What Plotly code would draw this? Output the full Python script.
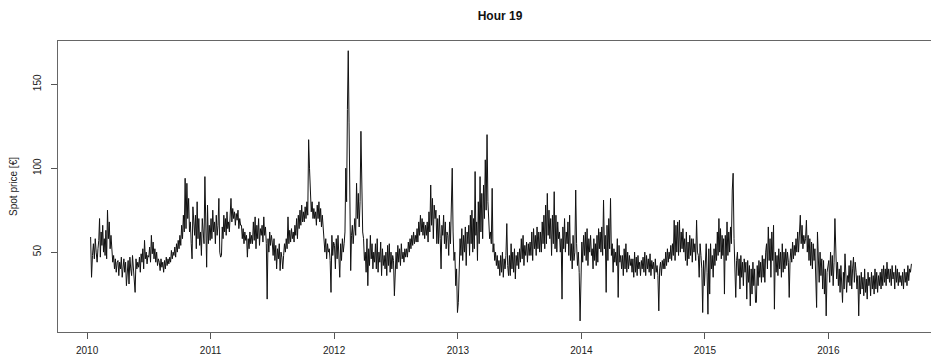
import pandas as pd
import plotly.graph_objects as go

# Spot prices (EUR): 12 readings per month
# (January 2010 starts on the 10th, the series ends in early September 2016)
p2010 = [
    [59, 35, 48, 55, 46, 58, 50, 44],
    [52, 57, 70, 47, 62, 54, 66, 50, 58, 48, 63, 46],
    [75, 58, 68, 52, 60, 50, 44, 48, 40, 46, 38, 44],
    [45, 36, 44, 40, 47, 35, 43, 46, 38, 44, 30, 42],
    [45, 31, 47, 40, 36, 48, 42, 37, 26, 46, 40, 44],
    [41, 47, 38, 49, 44, 52, 40, 57, 46, 50, 43, 48],
    [47, 53, 44, 60, 49, 56, 46, 52, 44, 50, 42, 46],
    [44, 39, 46, 41, 44, 38, 45, 40, 47, 42, 46, 43],
    [47, 44, 51, 46, 50, 48, 53, 47, 55, 50, 57, 52],
    [60, 54, 66, 58, 72, 62, 94, 64, 91, 70, 82, 62],
    [68, 55, 46, 77, 66, 60, 72, 52, 80, 58, 70, 54],
    [62, 48, 70, 60, 55, 95, 66, 41, 78, 55, 66, 57],
]
p2011 = [
    [70, 58, 75, 62, 68, 55, 72, 60, 66, 82, 50, 47],
    [48, 65, 58, 72, 62, 70, 60, 74, 64, 68, 62, 75],
    [82, 68, 76, 70, 74, 66, 73, 69, 75, 64, 70, 66],
    [66, 58, 64, 55, 62, 57, 60, 47, 58, 52, 62, 55],
    [60, 55, 68, 57, 71, 52, 66, 58, 70, 54, 64, 60],
    [66, 56, 71, 60, 65, 55, 22, 58, 50, 62, 54, 60],
    [56, 48, 58, 45, 54, 40, 52, 46, 55, 39, 50, 47],
    [40, 48, 55, 50, 58, 52, 71, 55, 63, 56, 64, 58],
    [62, 56, 66, 60, 70, 58, 72, 64, 75, 66, 78, 68],
    [74, 68, 77, 70, 80, 72, 117, 100, 85, 74, 80, 70],
    [76, 70, 74, 66, 78, 70, 80, 68, 76, 65, 72, 62],
    [60, 50, 58, 46, 55, 50, 52, 45, 26, 60, 48, 56],
]
p2012 = [
    [54, 40, 58, 46, 60, 50, 35, 55, 45, 58, 50, 55],
    [62, 100, 80, 135, 170, 127, 70, 39, 60, 66, 55, 62],
    [70, 60, 91, 70, 85, 65, 80, 122, 78, 62, 58, 45],
    [50, 38, 58, 30, 52, 42, 60, 46, 55, 40, 50, 44],
    [55, 40, 58, 38, 50, 44, 56, 36, 52, 42, 48, 40],
    [50, 36, 54, 42, 55, 38, 50, 40, 48, 45, 24, 42],
    [50, 40, 54, 44, 52, 42, 55, 46, 50, 44, 52, 47],
    [52, 47, 56, 50, 58, 52, 60, 54, 62, 55, 60, 56],
    [64, 56, 68, 60, 72, 62, 70, 60, 68, 58, 66, 60],
    [68, 56, 74, 62, 90, 66, 82, 58, 78, 70, 75, 55],
    [70, 55, 72, 58, 40, 66, 60, 72, 55, 68, 52, 62],
    [60, 48, 68, 55, 85, 100, 62, 45, 50, 30, 40, 14],
]
p2013 = [
    [20, 42, 58, 48, 64, 45, 60, 50, 65, 42, 62, 55],
    [66, 48, 72, 55, 75, 50, 70, 52, 98, 60, 68, 45],
    [80, 55, 95, 62, 85, 58, 90, 70, 105, 75, 120, 80],
    [70, 58, 62, 55, 88, 50, 55, 45, 50, 42, 48, 40],
    [45, 36, 48, 38, 50, 35, 46, 40, 48, 67, 42, 36],
    [48, 36, 55, 40, 50, 38, 52, 34, 48, 42, 50, 40],
    [52, 44, 58, 46, 60, 42, 54, 48, 56, 44, 55, 48],
    [56, 48, 62, 45, 64, 52, 60, 48, 65, 52, 62, 50],
    [62, 50, 68, 55, 72, 52, 78, 55, 85, 60, 75, 58],
    [70, 48, 72, 55, 86, 52, 72, 50, 68, 58, 62, 50],
    [58, 22, 65, 52, 70, 50, 62, 55, 68, 48, 72, 45],
    [55, 40, 60, 45, 50, 87, 55, 42, 50, 38, 9, 45],
]
p2014 = [
    [56, 44, 60, 48, 62, 45, 64, 42, 58, 50, 60, 48],
    [52, 40, 58, 45, 55, 42, 60, 44, 64, 52, 62, 50],
    [65, 48, 81, 52, 60, 26, 66, 45, 70, 52, 82, 48],
    [55, 38, 52, 44, 50, 42, 58, 23, 54, 44, 48, 40],
    [48, 36, 52, 40, 55, 38, 50, 40, 48, 42, 46, 38],
    [46, 35, 50, 38, 47, 36, 48, 40, 44, 36, 45, 40],
    [47, 38, 50, 36, 48, 40, 46, 38, 49, 36, 45, 40],
    [44, 34, 46, 38, 42, 36, 15, 40, 44, 36, 45, 40],
    [46, 40, 50, 42, 52, 44, 50, 46, 54, 45, 55, 48],
    [69, 45, 66, 50, 68, 48, 69, 50, 62, 52, 64, 50],
    [58, 45, 62, 42, 56, 46, 60, 48, 58, 44, 58, 50],
    [55, 45, 69, 50, 48, 35, 55, 48, 40, 14, 45, 30],
]
p2015 = [
    [40, 55, 38, 13, 52, 25, 55, 40, 48, 35, 52, 42],
    [55, 45, 62, 48, 70, 50, 64, 46, 60, 48, 58, 25],
    [60, 45, 68, 48, 62, 50, 65, 55, 87, 97, 58, 42],
    [23, 45, 50, 36, 46, 28, 48, 35, 44, 30, 46, 38],
    [44, 22, 45, 32, 42, 18, 40, 25, 44, 30, 40, 20],
    [20, 42, 30, 45, 35, 44, 32, 48, 35, 46, 32, 50],
    [55, 40, 65, 45, 58, 35, 62, 45, 66, 16, 50, 38],
    [48, 36, 52, 40, 50, 35, 55, 38, 50, 40, 52, 42],
    [50, 44, 23, 45, 52, 44, 56, 46, 54, 48, 58, 50],
    [62, 50, 64, 72, 55, 66, 52, 60, 55, 58, 69, 50],
    [60, 45, 58, 42, 56, 40, 55, 45, 52, 38, 17, 62],
    [48, 32, 50, 36, 46, 28, 45, 25, 40, 12, 38, 42],
]
p2016 = [
    [45, 32, 50, 36, 48, 30, 44, 70, 48, 34, 44, 30],
    [40, 26, 42, 30, 20, 38, 28, 49, 40, 26, 36, 32],
    [42, 30, 45, 28, 40, 47, 32, 44, 38, 28, 36, 12],
    [36, 25, 38, 28, 35, 24, 40, 26, 34, 22, 38, 30],
    [35, 24, 38, 28, 36, 25, 40, 28, 38, 26, 36, 30],
    [38, 28, 40, 30, 42, 32, 40, 30, 44, 34, 40, 32],
    [40, 30, 42, 34, 38, 28, 42, 32, 40, 30, 38, 32],
    [36, 30, 38, 28, 40, 32, 38, 30, 42, 33, 40, 38],
    [43],
]

years = [2010, 2011, 2012, 2013, 2014, 2015, 2016]
yearly = [p2010, p2011, p2012, p2013, p2014, p2015, p2016]
series_start = pd.Timestamp("2010-01-10")
series_end = pd.Timestamp("2016-09-04")
year_ticks = [str(y) for y in range(2010, 2017)]

dates, prices = [], []
for yr, rows in zip(years, yearly):
    for mi, row in enumerate(rows):
        start = pd.Timestamp(year=yr, month=mi + 1, day=1)
        end = start + pd.offsets.MonthBegin(1)
        start = max(start, series_start)
        end = min(end, series_end)
        n = len(row)
        for k, v in enumerate(row):
            dates.append(start + (end - start) * ((k + 0.5) / n))
            prices.append(v)

fig = go.Figure(go.Scatter(
    x=dates, y=prices, mode="lines",
    line=dict(color="#111111", width=1),
    hoverinfo="skip", showlegend=False,
))

FONT = "Liberation Sans, Arial, sans-serif"
tick_font = dict(family=FONT, size=10, color="#222222")

fig.update_layout(
    width=931, height=352,
    margin=dict(l=50, r=0, t=33, b=28, autoexpand=False),
    paper_bgcolor="white", plot_bgcolor="white",
    title=dict(text="<b>Hour 19</b>", xref="container", x=0.5285, xanchor="center",
               yref="container", y=0.977, yanchor="middle",
               font=dict(family=FONT, size=12, color="#111111")),
    xaxis=dict(
        type="date",
        range=["2009-10-07", "2016-11-23"],
        tickvals=[f"{y}-01-01" for y in year_ticks],
        ticktext=year_ticks,
        ticks="outside", ticklen=6, tickcolor="#555555",
        ticklabelstandoff=3,
        showgrid=False, zeroline=False,
        showline=True, linecolor="#666666", linewidth=1, mirror=True,
        tickfont=tick_font,
    ),
    yaxis=dict(
        range=[2.4, 175.8],
        tickvals=[50, 100, 150],
        tickangle=-90,
        ticks="outside", ticklen=6, tickcolor="#555555",
        ticklabelstandoff=6,
        showgrid=False, zeroline=False,
        showline=True, linecolor="#666666", linewidth=1, mirror=True,
        tickfont=tick_font,
        automargin=False,
        title=dict(text="Spot price [€]", standoff=24,
                   font=dict(family=FONT, size=10, color="#222222")),
    ),
)

fig.write_html("out.html")
